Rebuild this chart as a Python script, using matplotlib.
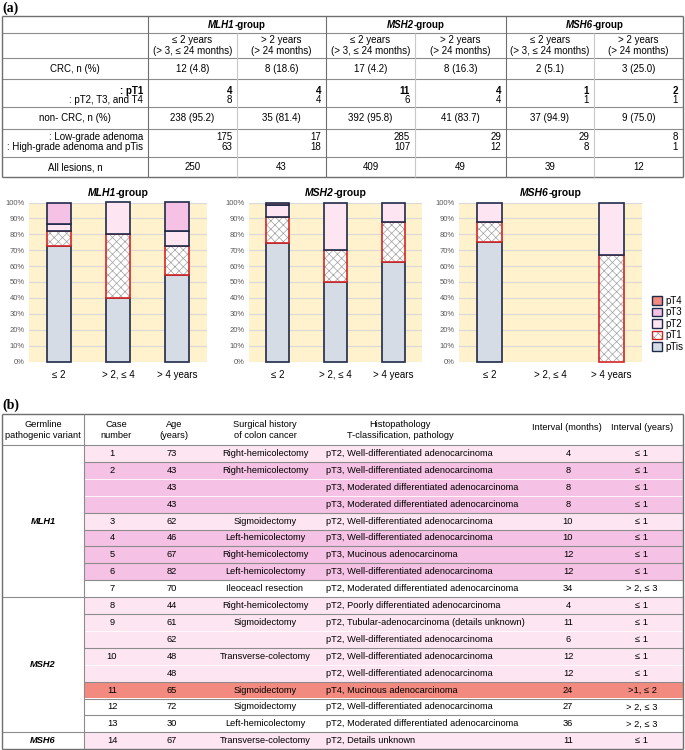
import matplotlib
matplotlib.use('Agg')
import matplotlib.pyplot as plt
from matplotlib.patches import Rectangle, Patch

plt.rcParams['font.family'] = ['Liberation Sans', 'DejaVu Sans']
plt.rcParams['hatch.linewidth'] = 0.5

# ---------------- data: table (a)
groups = ['MLH1', 'MSH2', 'MSH6']
period_heads = ['≤ 2 years\n(> 3, ≤ 24 months)', '> 2 years\n(> 24 months)']
crc_n = ['12 (4.8)', '8 (18.6)', '17 (4.2)', '8 (16.3)', '2 (5.1)', '3 (25.0)']
pt1_n = [4, 4, 11, 4, 1, 2]
pt234_n = [8, 4, 6, 4, 1, 1]
noncrc_n = ['238 (95.2)', '35 (81.4)', '392 (95.8)', '41 (83.7)', '37 (94.9)', '9 (75.0)']
low_n = [175, 17, 285, 29, 29, 8]
high_n = [63, 18, 107, 12, 8, 1]
all_n = [250, 43, 409, 49, 39, 12]

# ---------------- data: bar charts (% of lesions, order = stages)
intervals = ['≤ 2', '> 2, ≤ 4', '> 4 years']
stages = ['pTis', 'pT1', 'pT2', 'pT3', 'pT4']
mlh1_pct = [[72.7, 40.0, 54.5], [9.1, 40.0, 18.2], [4.5, 20.0, 9.1], [13.6, 0.0, 18.2], [0.0, 0.0, 0.0]]
msh2_pct = [[74.5, 50.0, 62.5], [16.3, 20.0, 25.0], [7.7, 30.0, 12.5], [0.0, 0.0, 0.0], [1.5, 0.0, 0.0]]
msh6_pct = [[75.0, 0.0, 0.0], [12.5, 0.0, 66.7], [12.5, 0.0, 33.3], [0.0, 0.0, 0.0], [0.0, 0.0, 0.0]]

# ---------------- data: table (b)
variant_rows = [('MLH1', 9), ('MSH2', 8), ('MSH6', 1)]
case_no = ['1', '2', '', '', '3', '4', '5', '6', '7', '8', '9', '', '10', '', '11', '12', '13', '14']
ages = [73, 43, 43, 43, 62, 46, 67, 82, 70, 44, 61, 62, 48, 48, 65, 72, 30, 67]
surgery = ['Right-hemicolectomy', 'Right-hemicolectomy', '', '', 'Sigmoidectomy', 'Left-hemicolectomy',
           'Right-hemicolectomy', 'Left-hemicolectomy', 'Ileoceacl resection', 'Right-hemicolectomy',
           'Sigmoidectomy', '', 'Transverse-colectomy', '', 'Sigmoidectomy', 'Sigmoidectomy',
           'Left-hemicolectomy', 'Transverse-colectomy']
t_class = ['pT2', 'pT3', 'pT3', 'pT3', 'pT2', 'pT3', 'pT3', 'pT3', 'pT2',
           'pT2', 'pT2', 'pT2', 'pT2', 'pT2', 'pT4', 'pT2', 'pT2', 'pT2']
pathology = ['Well-differentiated adenocarcinoma', 'Well-differentiated adenocarcinoma',
             'Moderated differentiated adenocarcinoma', 'Moderated differentiated adenocarcinoma',
             'Well-differentiated adenocarcinoma', 'Well-differentiated adenocarcinoma',
             'Mucinous adenocarcinoma', 'Well-differentiated adenocarcinoma',
             'Moderated differentiated adenocarcinoma', 'Poorly differentiated adenocarcinoma',
             'Tubular-adenocarcinoma (details unknown)', 'Well-differentiated adenocarcinoma',
             'Well-differentiated adenocarcinoma', 'Well-differentiated adenocarcinoma',
             'Mucinous adenocarcinoma', 'Well-differentiated adenocarcinoma',
             'Moderated differentiated adenocarcinoma', 'Details unknown']
months = [4, 8, 8, 8, 10, 10, 12, 12, 34, 4, 11, 6, 12, 12, 24, 27, 36, 11]
years = ['≤ 1', '≤ 1', '≤ 1', '≤ 1', '≤ 1', '≤ 1', '≤ 1', '≤ 1', '> 2, ≤ 3',
         '≤ 1', '≤ 1', '≤ 1', '≤ 1', '≤ 1', '>1, ≤ 2', '> 2, ≤ 3', '> 2, ≤ 3', '≤ 1']

stage_fill = {'pTis': '#D5DCE5', 'pT2': '#FDE6F2', 'pT3': '#F5C1E4', 'pT4': '#F28A80'}
navy = '#1F2A4A'
red = '#D42525'
line_c = '#8C8C8C'
light_c = '#C8C8C8'
FS = 7
FSB = 6.7

fig = plt.figure(figsize=(6.85, 7.5), dpi=100)
ov = fig.add_axes([0, 0, 1, 1])
ov.set_xlim(0, 685)
ov.set_ylim(750, 0)
ov.axis('off')
renderer = fig.canvas.get_renderer()


def hline(y, x0, x1, c=line_c, lw=0.8):
    ov.plot([x0, x1], [y, y], color=c, lw=lw, solid_capstyle='butt')


def vline(x, y0, y1, c=line_c, lw=0.8):
    ov.plot([x, x], [y0, y1], color=c, lw=lw, solid_capstyle='butt')


def rich(x, y, parts, size=FS):
    # parts: (text, weight, style); centred on x
    texts, widths = [], []
    for s, w, st in parts:
        t = ov.text(0, y, s, fontsize=size, fontweight=w, fontstyle=st, va='center', ha='left')
        widths.append(t.get_window_extent(renderer).width)
        texts.append(t)
    x0 = x - sum(widths) / 2
    for t, w in zip(texts, widths):
        t.set_x(x0)
        x0 += w


# ================= (a) table
ov.text(2, 8, '(a)', fontsize=10, fontweight='bold', family='Liberation Serif', va='center')
L, R = 2, 683
gx = [148, 326, 506, 683]
sub = [237, 415, 594]
col_l = [148, 237, 326, 415, 506, 594]
col_r = [237, 326, 415, 506, 594, 683]
rows_y = [16, 33, 58, 79, 107, 129, 157, 177]
for y in rows_y[1:-1]:
    hline(y, L, R)
hline(rows_y[0], L, R, c='#6E6E6E', lw=1.0)
hline(rows_y[-1], L, R, c='#6E6E6E', lw=1.0)
vline(L, 16, 177, c='#6E6E6E', lw=1.0)
vline(R, 16, 177, c='#6E6E6E', lw=1.0)
for x in gx[:-1]:
    vline(x, 16, 177, c='#6E6E6E')
for x in sub:
    vline(x, 33, 177, c=light_c)

for g, (a, b) in zip(groups, zip(gx[:-1], gx[1:])):
    rich((a + b) / 2, 25, [(g, 'bold', 'italic'), ('-group', 'bold', 'normal')])
for i in range(6):
    cx = (col_l[i] + col_r[i]) / 2
    ov.text(cx, 45.5, period_heads[i % 2], fontsize=FS, ha='center', va='center', linespacing=1.15)
    ov.text(cx, 68.5, crc_n[i], fontsize=FS, ha='center', va='center')
    ov.text(cx, 118, noncrc_n[i], fontsize=FS, ha='center', va='center')
    ov.text(cx, 167, str(all_n[i]), fontsize=FS, ha='center', va='center')
    rx = col_r[i] - 5
    ov.text(rx, 91, str(pt1_n[i]), fontsize=FS, fontweight='bold', ha='right', va='center')
    ov.text(rx, 100, str(pt234_n[i]), fontsize=FS, ha='right', va='center')
    ov.text(rx, 137.5, str(low_n[i]), fontsize=FS, ha='right', va='center')
    ov.text(rx, 147.5, str(high_n[i]), fontsize=FS, ha='right', va='center')

ov.text(75, 68.5, 'CRC, n (%)', fontsize=FS, ha='center', va='center')
ov.text(143, 91, ': pT1', fontsize=FS, fontweight='bold', ha='right', va='center')
ov.text(143, 100, ': pT2, T3, and T4', fontsize=FS, ha='right', va='center')
ov.text(75, 118, 'non- CRC, n (%)', fontsize=FS, ha='center', va='center')
ov.text(143, 137.5, ': Low-grade adenoma', fontsize=FS, ha='right', va='center')
ov.text(143, 147.5, ': High-grade adenoma and pTis', fontsize=FS, ha='right', va='center')
ov.text(75, 167, 'All lesions, n', fontsize=FS, ha='center', va='center')

# ================= (a) bar charts
chart_x = [(29, 207), (249, 422), (459, 642)]
y_top, y_bot = 202.5, 361.5
for g, pct, (x0, x1) in zip(groups, [mlh1_pct, msh2_pct, msh6_pct], chart_x):
    ax = fig.add_axes([x0 / 685, 1 - y_bot / 750, (x1 - x0) / 685, (y_bot - y_top) / 750])
    ax.set_facecolor('#FFF2CC')
    bottom = [0.0, 0.0, 0.0]
    for k, (stage, vals) in enumerate(zip(stages, pct)):
        idx = [i for i in range(3) if vals[i] > 0]
        hs = [vals[i] for i in idx]
        bs = [bottom[i] for i in idx]
        if idx:
            if stage == 'pT1':
                ax.bar(idx, hs, 0.4, bottom=bs, color='white', hatch='xxxx', edgecolor='#A0A0A0',
                       lw=0, zorder=2 + k)
                ax.bar(idx, hs, 0.4, bottom=bs, fill=False, edgecolor=red, lw=1.2, zorder=2.5 + k,
                       clip_on=False)
            else:
                ax.bar(idx, hs, 0.4, bottom=bs, color=stage_fill[stage], edgecolor=navy, lw=1.2,
                       zorder=2 + k, clip_on=False)
        bottom = [b + v for b, v in zip(bottom, vals)]
    ax.set_xlim(-0.5, 2.5)
    ax.set_ylim(0, 100)
    ax.set_yticks(range(0, 101, 10))
    ax.set_yticklabels([f'{v}%' for v in range(0, 101, 10)], fontsize=5.5, color='#595959')
    ax.set_xticks(range(3))
    ax.set_xticklabels(intervals, fontsize=FS)
    ax.tick_params(length=0)
    ax.tick_params(axis='y', pad=3)
    ax.tick_params(axis='x', pad=6)
    ax.yaxis.grid(True, color='#D9D9D9', lw=0.8)
    ax.set_axisbelow(True)
    for s in ax.spines.values():
        s.set_visible(False)
    rich((x0 + x1) / 2, 193, [(g, 'bold', 'italic'), ('-group', 'bold', 'normal')], size=7.5)

handles = [Patch(facecolor=stage_fill['pT4'], edgecolor=navy, lw=1),
           Patch(facecolor=stage_fill['pT3'], edgecolor=navy, lw=1),
           Patch(facecolor=stage_fill['pT2'], edgecolor=navy, lw=1),
           (Patch(facecolor='white', edgecolor='#A0A0A0', hatch='xxxx', lw=0),
            Patch(fill=False, edgecolor=red, lw=1)),
           Patch(facecolor=stage_fill['pTis'], edgecolor=navy, lw=1)]
fig.legend(handles, ['pT4', 'pT3', 'pT2', 'pT1', 'pTis'], loc='upper left',
           bbox_to_anchor=(652 / 685, 1 - 296 / 750), frameon=False, fontsize=FS,
           handlelength=1.0, handleheight=1.0, handletextpad=0.4, labelspacing=0.15,
           borderpad=0, borderaxespad=0)

# ================= (b) table
ov.text(2, 405, '(b)', fontsize=10, fontweight='bold', family='Liberation Serif', va='center')
top_b, head_b, rh = 414, 445, 16.9
n = len(ages)
row_y = [head_b + i * rh for i in range(n + 1)]
for i in range(n):
    c = stage_fill[t_class[i]] if months[i] <= 24 else 'white'
    ov.add_patch(Rectangle((84, row_y[i]), 683 - 84, rh, color=c, lw=0, zorder=0))

# row separators
start = 0
bounds = []
for v, cnt in variant_rows:
    start += cnt
    bounds.append(start)
for i in range(1, n):
    if i in bounds:
        hline(row_y[i], L, R)
    elif case_no[i]:
        hline(row_y[i], 84, R)
    else:
        hline(row_y[i], 84, R, c='white', lw=0.6)
hline(top_b, L, R, c='#6E6E6E', lw=1.0)
hline(head_b, L, R)
hline(row_y[-1], L, R, c='#6E6E6E', lw=1.0)
vline(L, top_b, row_y[-1], c='#6E6E6E', lw=1.0)
vline(R, top_b, row_y[-1], c='#6E6E6E', lw=1.0)
vline(84, top_b, row_y[-1])

hy = 430
ov.text(43, hy, 'Germline\npathogenic variant', fontsize=FSB, ha='center', va='center', linespacing=1.15)
ov.text(116, hy, 'Case\nnumber', fontsize=FSB, ha='center', va='center', linespacing=1.15)
ov.text(174, hy, 'Age\n(years)', fontsize=FSB, ha='center', va='center', linespacing=1.15)
ov.text(265, hy, 'Surgical history\nof colon cancer', fontsize=FSB, ha='center', va='center', linespacing=1.15)
ov.text(400, hy, 'Histopathology\nT-classification, pathology', fontsize=FSB, ha='center', va='center',
        linespacing=1.15)
ov.text(567, 427, 'Interval (months)', fontsize=FSB, ha='center', va='center')
ov.text(642, 427, 'Interval (years)', fontsize=FSB, ha='center', va='center')

for i in range(n):
    cy = row_y[i] + rh / 2
    ov.text(112, cy, case_no[i], fontsize=FSB, ha='center', va='center')
    ov.text(172, cy, str(ages[i]), fontsize=FSB, ha='center', va='center')
    ov.text(265, cy, surgery[i], fontsize=FSB, ha='center', va='center')
    ov.text(326, cy, f'{t_class[i]}, {pathology[i]}', fontsize=FSB, ha='left', va='center')
    ov.text(568, cy, str(months[i]), fontsize=FSB, ha='center', va='center')
    ov.text(642, cy, years[i], fontsize=FSB, ha='center', va='center')

start = 0
for v, cnt in variant_rows:
    mid = (row_y[start] + row_y[start + cnt]) / 2
    ov.text(43, mid, v, fontsize=FSB, fontweight='bold', fontstyle='italic', ha='center', va='center')
    start += cnt

fig.savefig('out.png', dpi=100)
